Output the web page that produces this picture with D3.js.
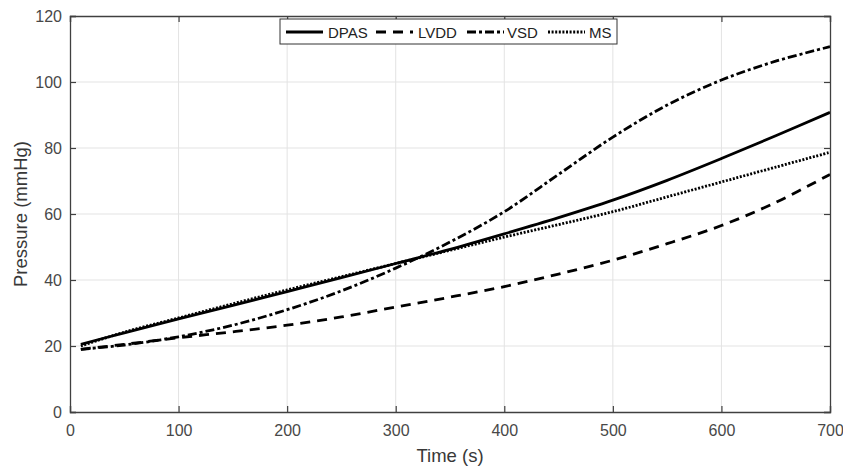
<!DOCTYPE html>
<html>
<head>
<meta charset="utf-8">
<script src="https://cdn.jsdelivr.net/npm/d3@7"></script>
<style>
  body { margin: 0; background: #fff; }
  svg { display: block; font-family: "Liberation Sans", Arial, sans-serif; }
</style>
</head>
<body>
<svg id="drawing_region"></svg>
<script>
// data
const times = [10, 50, 100, 150, 200, 250, 300, 350, 400, 450, 500, 550, 600, 650, 700];
const dpas  = [20.5, 24, 28.2, 32.3, 36.5, 40.7, 45, 49.3, 54, 58.9, 64.2, 70.2, 76.8, 83.7, 90.8];
const lvdd  = [19, 20.5, 22.5, 24.3, 26.3, 28.8, 31.8, 34.8, 38, 41.8, 46, 51, 56.5, 63.5, 72];
const vsd   = [19, 20.3, 22.8, 26.3, 31, 36.7, 43.6, 51.5, 60.7, 72, 83.3, 93, 100.6, 106.3, 110.7];
const ms    = [20, 24.2, 28.5, 32.8, 37, 41, 45, 49, 53, 56.8, 60.7, 65.2, 69.7, 74.2, 78.7];
const seriesNames = ['DPAS', 'LVDD', 'VSD', 'MS'];
const xTicks = [0, 100, 200, 300, 400, 500, 600, 700];
const yTicks = [0, 20, 40, 60, 80, 100, 120];

const width = 843, height = 467;
const margin = { top: 16, right: 13, bottom: 55, left: 70 };
const innerW = width - margin.left - margin.right;
const innerH = height - margin.top - margin.bottom;

const svg = d3.select('#drawing_region')
    .attr('width', width)
    .attr('height', height);

const chart = svg.append('g')
    .attr('transform', `translate(${margin.left}, ${margin.top})`);

const xscale = d3.scaleLinear().domain([0, 700]).range([0, innerW]);
const yscale = d3.scaleLinear().domain([0, 120]).range([innerH, 0]);

// grid
chart.append('g').selectAll('line').data(xTicks.slice(1, -1)).join('line')
    .attr('x1', d => xscale(d)).attr('x2', d => xscale(d))
    .attr('y1', 0).attr('y2', innerH)
    .attr('stroke', '#e3e3e3').attr('stroke-width', 1);
chart.append('g').selectAll('line').data(yTicks.slice(1, -1)).join('line')
    .attr('y1', d => yscale(d)).attr('y2', d => yscale(d))
    .attr('x1', 0).attr('x2', innerW)
    .attr('stroke', '#e3e3e3').attr('stroke-width', 1);

// lines
const styles = {
    DPAS: { dash: null },
    LVDD: { dash: '10,7' },
    VSD:  { dash: '9,3,3,3' },
    MS:   { dash: '2,1.6' }
};
const rows = [dpas, lvdd, vsd, ms].map((vals, i) => ({
    name: seriesNames[i],
    points: times.map((t, j) => ({ t: t, v: vals[j] }))
}));

const line = d3.line()
    .x(d => xscale(d.t))
    .y(d => yscale(d.v))
    .curve(d3.curveCatmullRom.alpha(0.5));

chart.append('g').selectAll('path').data(rows).join('path')
    .attr('d', d => line(d.points))
    .attr('fill', 'none')
    .attr('stroke', '#000')
    .attr('stroke-width', 2.8)
    .attr('stroke-dasharray', d => styles[d.name].dash);

// axes with inward ticks on all sides
const axisColor = '#404040';
const xaxis = d3.axisBottom(xscale).tickValues(xTicks).tickSize(-6).tickPadding(13);
const yaxis = d3.axisLeft(yscale).tickValues(yTicks).tickSize(-6).tickPadding(8);
const xaxisTop = d3.axisTop(xscale).tickValues(xTicks).tickSize(-6).tickFormat('');
const yaxisRight = d3.axisRight(yscale).tickValues(yTicks).tickSize(-6).tickFormat('');

const styleAxis = g => {
    g.select('.domain').attr('stroke', axisColor).attr('stroke-width', 1.3);
    g.selectAll('.tick line').attr('stroke', axisColor).attr('stroke-width', 1.2);
    g.selectAll('.tick text').attr('fill', '#484848').style('font-size', '16px')
        .style('font-family', '"Liberation Sans", Arial, sans-serif');
};

chart.append('g').attr('transform', `translate(0, ${innerH})`).call(xaxis).call(styleAxis);
chart.append('g').call(yaxis).call(styleAxis);
chart.append('g').call(xaxisTop).call(styleAxis);
chart.append('g').attr('transform', `translate(${innerW}, 0)`).call(yaxisRight).call(styleAxis);

// axis labels
svg.append('text')
    .attr('x', margin.left + innerW / 2)
    .attr('y', 462)
    .attr('text-anchor', 'middle')
    .attr('fill', '#383838')
    .style('font-size', '18.5px')
    .text('Time (s)');

svg.append('text')
    .attr('transform', `translate(27, ${margin.top + innerH / 2}) rotate(-90)`)
    .attr('text-anchor', 'middle')
    .attr('fill', '#383838')
    .style('font-size', '18.5px')
    .text('Pressure (mmHg)');

// legend
const legend = svg.append('g').attr('transform', 'translate(280, 19)');
legend.append('rect')
    .attr('width', 337).attr('height', 25)
    .attr('fill', '#fff').attr('stroke', '#333').attr('stroke-width', 1);

const legendX = [6, 96, 187, 268];
const textX = [48, 138, 227, 309];
const items = legend.selectAll('g.item').data(seriesNames).join('g').attr('class', 'item');
items.append('line')
    .attr('x1', (d, i) => legendX[i]).attr('x2', (d, i) => legendX[i] + 37)
    .attr('y1', 13).attr('y2', 13)
    .attr('stroke', '#000').attr('stroke-width', 2.8)
    .attr('stroke-dasharray', d => styles[d].dash);
items.append('text')
    .attr('x', (d, i) => textX[i]).attr('y', 18.5)
    .attr('fill', '#222')
    .style('font-size', '15px')
    .text(d => d);
</script>
</body>
</html>
